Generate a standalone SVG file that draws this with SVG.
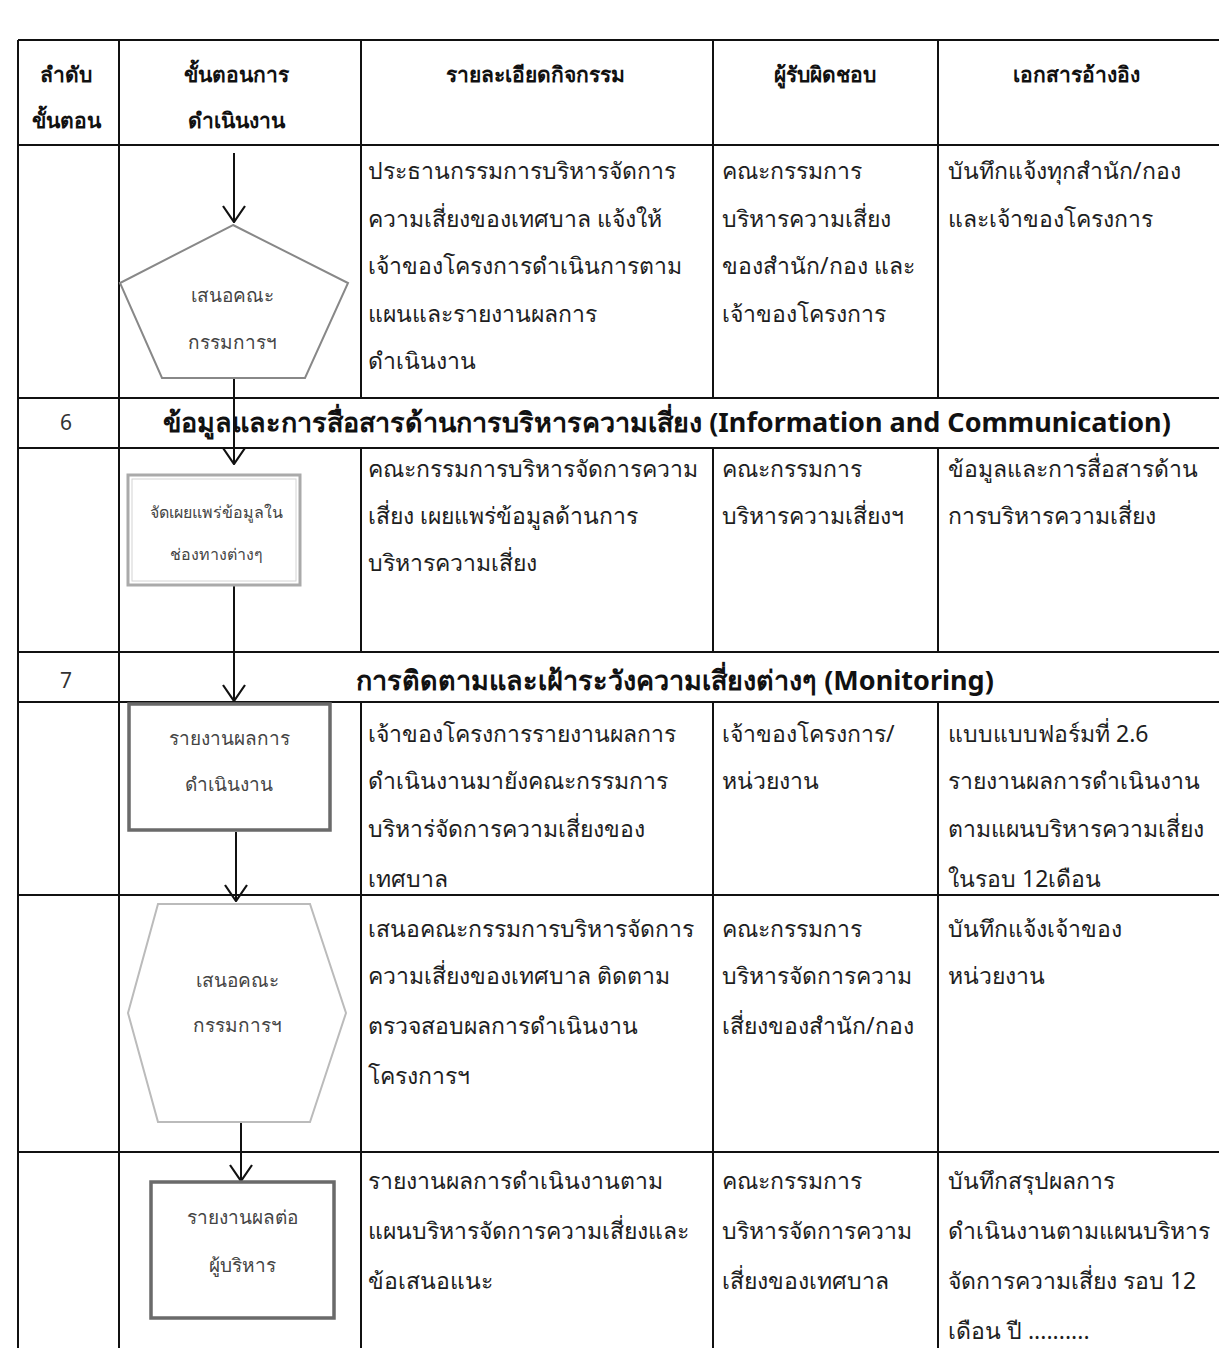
<svg xmlns="http://www.w3.org/2000/svg" width="1219" height="1348" viewBox="0 0 1219 1348">
<style>
.bg{fill:#ffffff}
.grid{stroke:#111;stroke-width:2;fill:none}
.t{font-family:"Noto Sans","DejaVu Sans",sans-serif;font-size:23px;fill:#1e1e1e}
.h{font-family:"Noto Sans","DejaVu Sans",sans-serif;font-size:21px;font-weight:bold;fill:#111;text-anchor:middle}
.sec{font-family:"Noto Sans","DejaVu Sans",sans-serif;font-size:27px;font-weight:bold;fill:#111;text-anchor:middle}
.num{font-family:"Noto Sans","DejaVu Sans",sans-serif;font-size:21px;fill:#333;text-anchor:middle}
.s{font-family:"Noto Sans","DejaVu Sans",sans-serif;font-size:19px;fill:#444;text-anchor:middle}
.conn{stroke:#111;stroke-width:2;fill:none}
</style>
<defs>
<marker id="arr" viewBox="0 0 20 24" refX="19" refY="12" markerWidth="20" markerHeight="24" markerUnits="userSpaceOnUse" orient="auto">
<path d="M3,1 L19,12 L3,23" fill="none" stroke="#111" stroke-width="2.2"/>
</marker>
</defs>
<rect class="bg" x="0" y="0" width="1219" height="1348"/>

<g id="table">
<path class="grid" d="M18,40 H1219 M18,145 H1219 M18,398 H1219 M18,448 H1219 M18,652 H1219 M18,702 H1219 M18,895 H1219 M18,1152 H1219"/>
<path class="grid" d="M18,40 V1348 M119,40 V1348 M361,40 V398 M713,40 V398 M938,40 V398 M361,448 V652 M713,448 V652 M938,448 V652 M361,702 V1348 M713,702 V1348 M938,702 V1348"/>
</g>

<g id="header">
<text class="h" x="66" y="82">ลำดับ</text>
<text class="h" x="66" y="128">ขั้นตอน</text>
<text class="h" x="236" y="82">ขั้นตอนการ</text>
<text class="h" x="236" y="128">ดำเนินงาน</text>
<text class="h" x="535" y="82">รายละเอียดกิจกรรม</text>
<text class="h" x="825" y="82">ผู้รับผิดชอบ</text>
<text class="h" x="1076" y="82">เอกสารอ้างอิง</text>
</g>

<g id="sections">
<text class="num" x="66" y="430">6</text>
<text class="sec" x="667" y="432">ข้อมูลและการสื่อสารด้านการบริหารความเสี่ยง (Information and Communication)</text>
<text class="num" x="66" y="688">7</text>
<text class="sec" x="675" y="690">การติดตามและเฝ้าระวังความเสี่ยงต่างๆ (Monitoring)</text>
</g>

<g id="connectors">
<line class="conn" x1="234" y1="153" x2="234" y2="222" marker-end="url(#arr)"/>
<line class="conn" x1="234" y1="378" x2="234" y2="464" marker-end="url(#arr)"/>
<line class="conn" x1="234" y1="586" x2="234" y2="701" marker-end="url(#arr)"/>
<line class="conn" x1="236" y1="832" x2="236" y2="901" marker-end="url(#arr)"/>
<line class="conn" x1="241" y1="1122" x2="241" y2="1181" marker-end="url(#arr)"/>
</g>

<g id="node-pentagon">
<polygon points="233,225 348,283 305,378 162,378 120,283" fill="#fff" stroke="#888" stroke-width="2"/>
<text class="s" x="232" y="302">เสนอคณะ</text>
<text class="s" x="232" y="349">กรรมการฯ</text>
</g>
<g id="row1-text">
<text class="t" x="368" y="179">ประธานกรรมการบริหารจัดการ</text>
<text class="t" x="368" y="227">ความเสี่ยงของเทศบาล แจ้งให้</text>
<text class="t" x="368" y="274">เจ้าของโครงการดำเนินการตาม</text>
<text class="t" x="368" y="322">แผนและรายงานผลการ</text>
<text class="t" x="368" y="369">ดำเนินงาน</text>
<text class="t" x="722" y="179">คณะกรรมการ</text>
<text class="t" x="722" y="227">บริหารความเสี่ยง</text>
<text class="t" x="722" y="274">ของสำนัก/กอง และ</text>
<text class="t" x="722" y="322">เจ้าของโครงการ</text>
<text class="t" x="948" y="179">บันทึกแจ้งทุกสำนัก/กอง</text>
<text class="t" x="948" y="227">และเจ้าของโครงการ</text>
</g>

<g id="node-publish">
<rect x="128" y="475" width="172" height="110" fill="#fff" stroke="#aaa" stroke-width="3"/>
<rect x="132" y="479" width="164" height="102" fill="none" stroke="#d4d4d4" stroke-width="1"/>
<text class="s" x="216" y="518" style="font-size:16px">จัดเผยแพร่ข้อมูลใน</text>
<text class="s" x="216" y="560" style="font-size:16px">ช่องทางต่างๆ</text>
</g>
<g id="row2-text">
<text class="t" x="368" y="477">คณะกรรมการบริหารจัดการความ</text>
<text class="t" x="368" y="524">เสี่ยง เผยแพร่ข้อมูลด้านการ</text>
<text class="t" x="368" y="571">บริหารความเสี่ยง</text>
<text class="t" x="722" y="477">คณะกรรมการ</text>
<text class="t" x="722" y="524">บริหารความเสี่ยงฯ</text>
<text class="t" x="948" y="477">ข้อมูลและการสื่อสารด้าน</text>
<text class="t" x="948" y="524">การบริหารความเสี่ยง</text>
</g>

<g id="node-report">
<rect x="129" y="704" width="201" height="126" fill="#fff" stroke="#6a6a6a" stroke-width="3.5"/>
<text class="s" x="229" y="745">รายงานผลการ</text>
<text class="s" x="229" y="791">ดำเนินงาน</text>
</g>
<g id="row3-text">
<text class="t" x="368" y="742">เจ้าของโครงการรายงานผลการ</text>
<text class="t" x="368" y="789">ดำเนินงานมายังคณะกรรมการ</text>
<text class="t" x="368" y="837">บริหาร่จัดการความเสี่ยงของ</text>
<text class="t" x="368" y="887">เทศบาล</text>
<text class="t" x="722" y="742">เจ้าของโครงการ/</text>
<text class="t" x="722" y="789">หน่วยงาน</text>
<text class="t" x="948" y="742">แบบแบบฟอร์มที่ 2.6</text>
<text class="t" x="948" y="789">รายงานผลการดำเนินงาน</text>
<text class="t" x="948" y="837">ตามแผนบริหารความเสี่ยง</text>
<text class="t" x="948" y="887">ในรอบ 12เดือน</text>
</g>

<g id="node-hexagon">
<polygon points="158,904 310,904 346,1013 310,1122 158,1122 128,1013" fill="#fff" stroke="#bbb" stroke-width="2"/>
<text class="s" x="237" y="987">เสนอคณะ</text>
<text class="s" x="237" y="1032">กรรมการฯ</text>
</g>
<g id="row4-text">
<text class="t" x="368" y="937">เสนอคณะกรรมการบริหารจัดการ</text>
<text class="t" x="368" y="984">ความเสี่ยงของเทศบาล ติดตาม</text>
<text class="t" x="368" y="1034">ตรวจสอบผลการดำเนินงาน</text>
<text class="t" x="368" y="1084">โครงการฯ</text>
<text class="t" x="722" y="937">คณะกรรมการ</text>
<text class="t" x="722" y="984">บริหารจัดการความ</text>
<text class="t" x="722" y="1034">เสี่ยงของสำนัก/กอง</text>
<text class="t" x="948" y="937">บันทึกแจ้งเจ้าของ</text>
<text class="t" x="948" y="984">หน่วยงาน</text>
</g>

<g id="node-executive">
<rect x="151" y="1182" width="183" height="136" fill="#fff" stroke="#6a6a6a" stroke-width="3.5"/>
<text class="s" x="242" y="1224">รายงานผลต่อ</text>
<text class="s" x="242" y="1272">ผู้บริหาร</text>
</g>
<g id="row5-text">
<text class="t" x="368" y="1189">รายงานผลการดำเนินงานตาม</text>
<text class="t" x="368" y="1239">แผนบริหารจัดการความเสี่ยงและ</text>
<text class="t" x="368" y="1289">ข้อเสนอแนะ</text>
<text class="t" x="722" y="1189">คณะกรรมการ</text>
<text class="t" x="722" y="1239">บริหารจัดการความ</text>
<text class="t" x="722" y="1289">เสี่ยงของเทศบาล</text>
<text class="t" x="948" y="1189">บันทึกสรุปผลการ</text>
<text class="t" x="948" y="1239">ดำเนินงานตามแผนบริหาร</text>
<text class="t" x="948" y="1289">จัดการความเสี่ยง  รอบ 12</text>
<text class="t" x="948" y="1339">เดือน ปี ..........</text>
</g>
</svg>
